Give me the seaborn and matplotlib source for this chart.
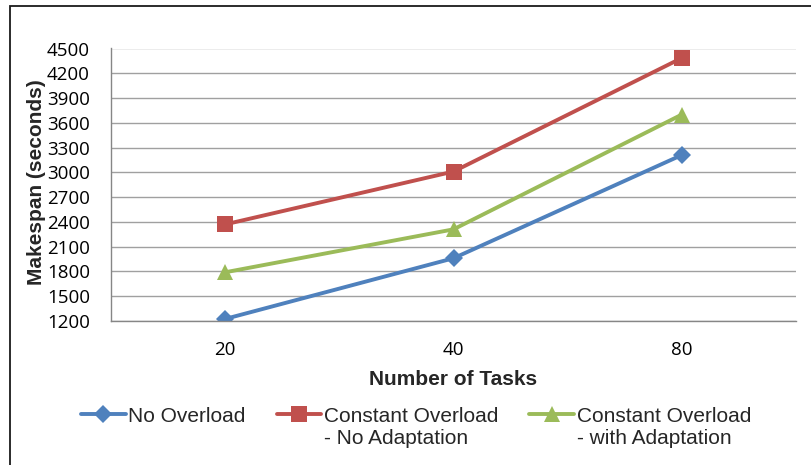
import matplotlib
matplotlib.use("Agg")
import matplotlib.pyplot as plt
from matplotlib.patches import Rectangle
from matplotlib.font_manager import FontProperties
import numpy as np
import pandas as pd
import seaborn as sns

# Number of tasks (categories on the x axis)
tasks = ["20", "40", "80"]

# Makespan in seconds for each scenario
no_overload = [1225, 1960, 3210]
overload_no_adapt = [2370, 3010, 4385]
overload_with_adapt = [1790, 2310, 3700]

series_labels = [
    "No Overload",
    "Constant Overload\n- No Adaptation",
    "Constant Overload\n- with Adaptation",
]
y_ticks = [1200, 1500, 1800, 2100, 2400, 2700, 3000, 3300, 3600, 3900, 4200, 4500]

colors = ["#4F81BD", "#C0504D", "#9BBB59"]
markers = ["D", "s", "^"]
marker_sizes = [8.7, 11.0, 11.5]

sns.set_theme(style="white")
plt.rcParams["font.family"] = ["Liberation Sans", "DejaVu Sans"]

pos = np.arange(len(tasks))
frames = []
for label, vals in zip(series_labels, [no_overload, overload_no_adapt, overload_with_adapt]):
    frames.append(pd.DataFrame({"pos": pos, "makespan": vals, "series": label}))
df = pd.concat(frames, ignore_index=True)

fig = plt.figure(figsize=(8.11, 4.65), dpi=100)
ax = fig.add_axes([111 / 811, 1 - 321 / 465, (796 - 111) / 811, (321 - 48.5) / 465])

handles = []
for label, color, mk, ms in zip(series_labels, colors, markers, marker_sizes):
    sub = df[df["series"] == label]
    sns.lineplot(data=sub, x="pos", y="makespan", ax=ax, color=color,
                 marker=mk, markersize=ms, markeredgewidth=0,
                 linewidth=2.8, errorbar=None, legend=False)
    line = ax.lines[-1]
    line.set_label(label)
    handles.append(line)

ax.set_xlim(-0.5, len(tasks) - 0.5)
ax.set_ylim(y_ticks[0], y_ticks[-1])

tick_font = FontProperties(family="Open Sans", size=13.5)
ax.set_xticks(pos)
ax.set_xticklabels(tasks, fontproperties=tick_font)
ax.set_xticks(np.arange(-0.5, len(tasks), 1.0), minor=True)
ax.set_yticks(y_ticks)
ax.set_yticklabels([str(v) for v in y_ticks], fontproperties=tick_font)

ax.tick_params(axis="x", which="both", direction="in", length=7, width=1,
               color="#868686", pad=14.5, colors="black")
ax.tick_params(axis="x", which="both", color="#868686")
ax.tick_params(axis="y", direction="out", length=7.2, width=1,
               color="#868686", pad=8, labelcolor="black")

ax.yaxis.grid(True, color="#a0a0a0", linewidth=1.0)
ax.xaxis.grid(False)
ax.set_axisbelow(True)

for side in ["top", "right"]:
    ax.spines[side].set_visible(False)
for side in ["left", "bottom"]:
    ax.spines[side].set_color("#868686")
    ax.spines[side].set_linewidth(1.0)

title_font = FontProperties(family="Liberation Sans", weight="bold", size=15)
ax.set_xlabel("Number of Tasks", fontproperties=title_font)
ax.set_ylabel("Makespan (seconds)", fontproperties=title_font)
ax.xaxis.set_label_coords(0.5, -0.1795)
ax.yaxis.set_label_coords(-0.0949, 0.51)

leg = ax.legend(handles, series_labels, loc="upper left",
                bbox_to_anchor=(81 / 811, 1 - 406.7 / 465),
                bbox_transform=fig.transFigure, ncol=3, frameon=False,
                borderpad=0, borderaxespad=0, handlelength=2.14,
                handletextpad=0.14, columnspacing=1.48,
                prop=FontProperties(family="Liberation Sans", size=15))
# keep each legend marker level with the first line of its label
box = leg._legend_handle_box
box.align = "top"
for col in box.get_children():
    for item in col.get_children():
        item.align = "top"

# outer chart frame
fig.add_artist(Rectangle((10 / 811, -0.1), 1.2, (1 - 5.7 / 465) + 0.1,
                         transform=fig.transFigure, fill=False,
                         edgecolor="#1a1a1a", linewidth=1.3))

fig.savefig("out.png", dpi=100)
